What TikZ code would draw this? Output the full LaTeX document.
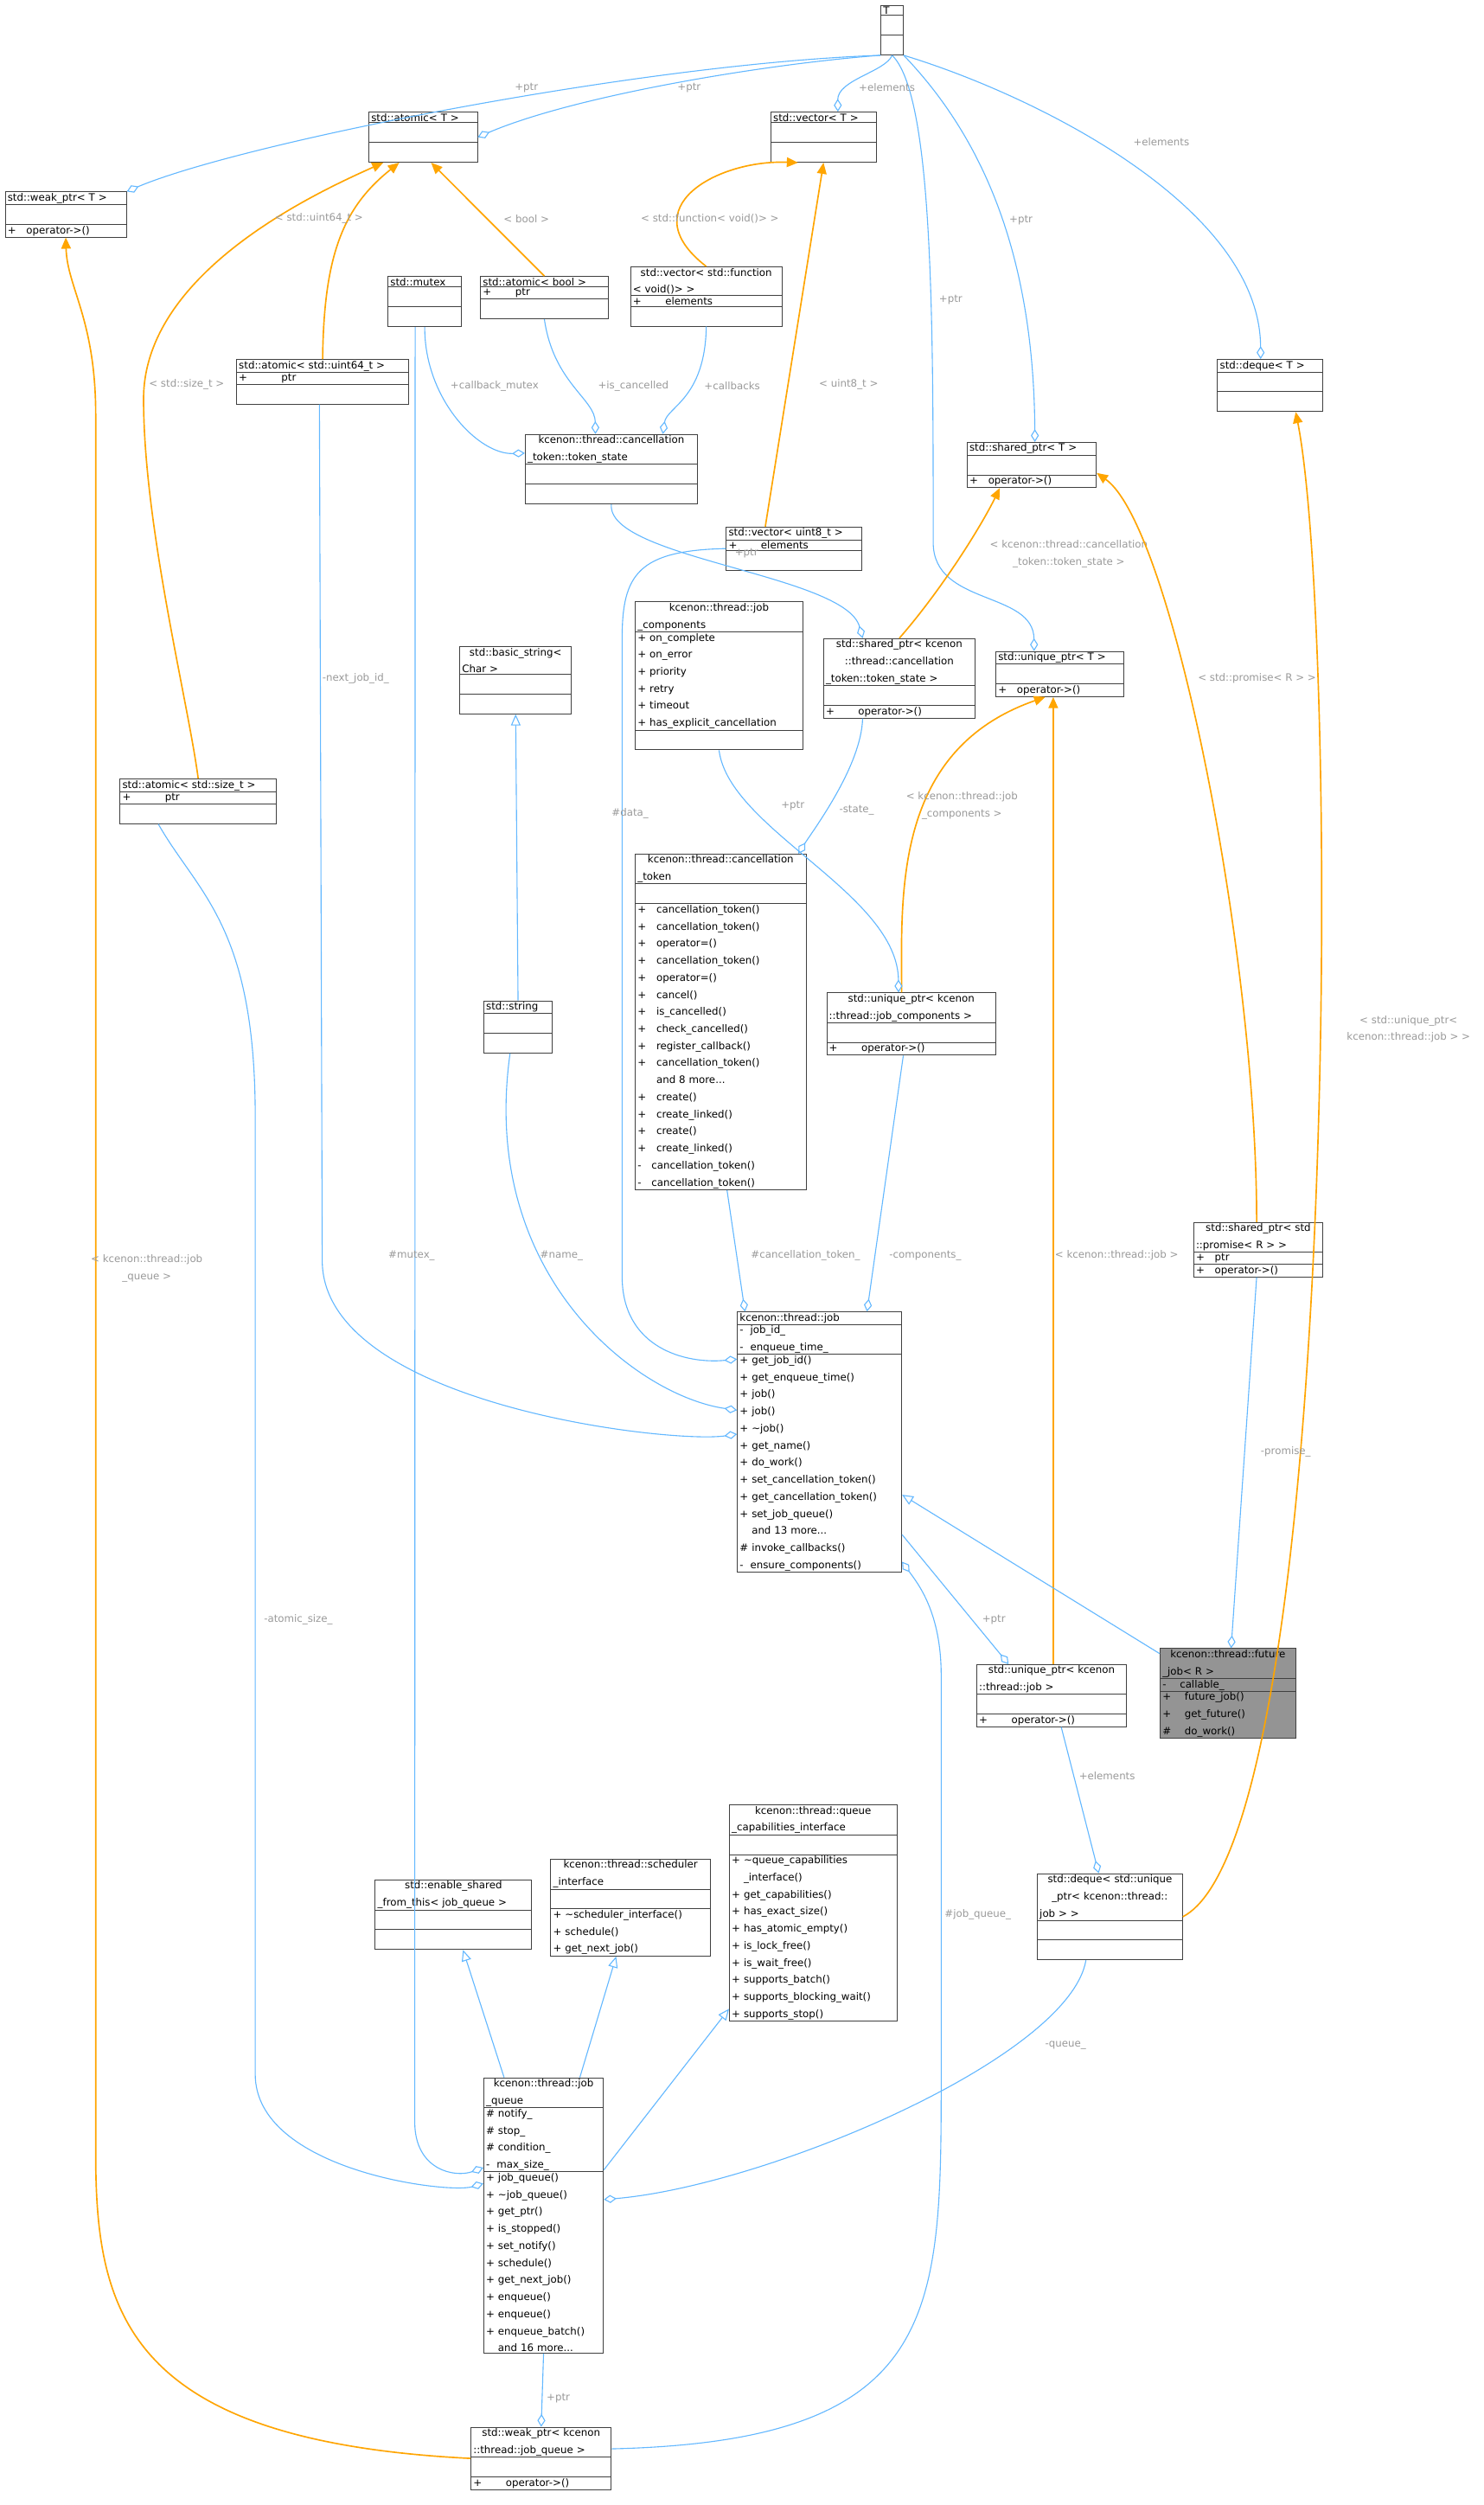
\documentclass[tikz,border=0pt]{standalone}
\usepackage{fontspec}
\setmainfont{DejaVu Sans}
\usetikzlibrary{shapes.multipart,arrows.meta,calc}
\definecolor{eb}{HTML}{63B8FF}
\definecolor{eo}{HTML}{FFA500}
\definecolor{lg}{HTML}{9A9A9A}
\newcommand\fs{\fontsize{6.4}{10.7}\selectfont}
\newcommand\tl{\centering}
\newcommand\mb{\raggedright}
\begin{document}
\begin{tikzpicture}[x=1pt,y=-1pt,
 cls/.style={draw=black!75,line width=0.5pt,rectangle split,rectangle split parts=3,
   text width=#1-3pt,inner xsep=1.5pt,inner ysep=0.6pt,anchor=north west,font=\fs,fill=white},
 be/.style={draw=eb,line width=0.6pt,-{Diamond[open,length=8pt,width=5pt]}},
 oe/.style={draw=eo,line width=0.9pt,-{Triangle[length=7pt,width=6pt]}},
 ie/.style={draw=eb,line width=0.6pt,-{Triangle[open,length=7pt,width=6pt]}},
 lbl/.style={font=\fs,text=lg,align=center,inner sep=0pt}]
\fill[white] (0,0) rectangle (930,1570);
\useasboundingbox (0,0) rectangle (930,1570);
\node[cls=14] (T) at (552,3) {\tl T\nodepart{two}\strut\nodepart{three}\strut};
\node[cls=76] (wpT) at (3,120) {\tl std::weak\_ptr< T >\nodepart{two}\strut\nodepart{three}\mb + \ \ operator->()};
\node[cls=68] (aT) at (231,70) {\tl std::atomic< T >\nodepart{two}\strut\nodepart{three}\strut};
\node[cls=66] (vT) at (483,70) {\tl std::vector< T >\nodepart{two}\strut\nodepart{three}\strut};
\node[cls=46] (mutex) at (243,173) {\tl std::mutex\nodepart{two}\strut\nodepart{three}\strut};
\node[cls=80] (ab) at (301,173) {\tl std::atomic< bool >\nodepart{two}\mb + \qquad ptr\nodepart{three}\strut};
\node[cls=95] (vf) at (395,167) {\tl std::vector< std::function\\< void()> >\nodepart{two}\mb + \qquad elements\nodepart{three}\strut};
\node[cls=108] (au64) at (148,225) {\tl std::atomic< std::uint64\_t >\nodepart{two}\mb + \qquad\quad ptr\nodepart{three}\strut};
\node[cls=66] (dT) at (763,225) {\tl std::deque< T >\nodepart{two}\strut\nodepart{three}\strut};
\node[cls=108] (ts) at (329,272) {\tl kcenon::thread::cancellation\\\_token::token\_state\nodepart{two}\strut\nodepart{three}\strut};
\node[cls=81] (spT) at (606,277) {\tl std::shared\_ptr< T >\nodepart{two}\strut\nodepart{three}\mb + \ \ operator->()};
\node[cls=85] (vu8) at (455,330) {\tl std::vector< uint8\_t >\nodepart{two}\mb + \qquad elements\nodepart{three}\strut};
\node[cls=105] (jc) at (398,377) {\tl kcenon::thread::job\\\_components\nodepart{two}\mb + on\_complete\\+ on\_error\\+ priority\\+ retry\\+ timeout\\+ has\_explicit\_cancellation\nodepart{three}\strut};
\node[cls=95] (spts) at (516,400) {\tl std::shared\_ptr< kcenon\\::thread::cancellation\\\_token::token\_state >\nodepart{two}\strut\nodepart{three}\mb + \qquad operator->()};
\node[cls=80] (upT) at (624,408) {\tl std::unique\_ptr< T >\nodepart{two}\strut\nodepart{three}\mb + \ \ operator->()};
\node[cls=70] (bs) at (288,405) {\tl std::basic\_string<\\Char >\nodepart{two}\strut\nodepart{three}\strut};
\node[cls=98] (as) at (75,488) {\tl std::atomic< std::size\_t >\nodepart{two}\mb + \qquad\quad ptr\nodepart{three}\strut};
\node[cls=107] (ct) at (398,535) {\tl kcenon::thread::cancellation\\\_token\nodepart{two}\strut\nodepart{three}\mb
+ \ \ cancellation\_token()\\+ \ \ cancellation\_token()\\+ \ \ operator=()\\+ \ \ cancellation\_token()\\+ \ \ operator=()\\+ \ \ cancel()\\+ \ \ is\_cancelled()\\+ \ \ check\_cancelled()\\+ \ \ register\_callback()\\+ \ \ cancellation\_token()\\\phantom{+ \ \ }and 8 more...\\+ \ \ create()\\+ \ \ create\_linked()\\+ \ \ create()\\+ \ \ create\_linked()\\- \ \ cancellation\_token()\\- \ \ cancellation\_token()};
\node[cls=43] (str) at (303,627) {\tl std::string\nodepart{two}\strut\nodepart{three}\strut};
\node[cls=106] (upjc) at (518,622) {\tl std::unique\_ptr< kcenon\\::thread::job\_components >\nodepart{two}\strut\nodepart{three}\mb + \qquad operator->()};
\node[cls=81] (spp) at (748,766) {\tl std::shared\_ptr< std\\::promise< R > >\nodepart{two}\mb + \ \ ptr\nodepart{three}\mb + \ \ operator->()};
\node[cls=103] (job) at (462,822) {\tl kcenon::thread::job\nodepart{two}\mb - \ job\_id\_\\- \ enqueue\_time\_\nodepart{three}\mb
+ get\_job\_id()\\+ get\_enqueue\_time()\\+ job()\\+ job()\\+ \textasciitilde job()\\+ get\_name()\\+ do\_work()\\+ set\_cancellation\_token()\\+ get\_cancellation\_token()\\+ set\_job\_queue()\\\phantom{+ }and 13 more...\\\# invoke\_callbacks()\\- \ ensure\_components()};
\node[cls=85,fill=black!42] (fj) at (727,1033) {\tl kcenon::thread::future\\\_job< R >\nodepart{two}\mb - \ \ \ callable\_\nodepart{three}\mb + \ \ \ future\_job()\\+ \ \ \ get\_future()\\\# \ \ \ do\_work()};
\node[cls=94] (upj) at (612,1043) {\tl std::unique\_ptr< kcenon\\::thread::job >\nodepart{two}\strut\nodepart{three}\mb + \qquad operator->()};
\node[cls=105] (qc) at (457,1131) {\tl kcenon::thread::queue\\\_capabilities\_interface\nodepart{two}\strut\nodepart{three}\mb
+ \textasciitilde queue\_capabilities\\\phantom{+ }\_interface()\\+ get\_capabilities()\\+ has\_exact\_size()\\+ has\_atomic\_empty()\\+ is\_lock\_free()\\+ is\_wait\_free()\\+ supports\_batch()\\+ supports\_blocking\_wait()\\+ supports\_stop()};
\node[cls=100] (si) at (345,1165) {\tl kcenon::thread::scheduler\\\_interface\nodepart{two}\strut\nodepart{three}\mb + \textasciitilde scheduler\_interface()\\+ schedule()\\+ get\_next\_job()};
\node[cls=98] (esft) at (235,1178) {\tl std::enable\_shared\\\_from\_this< job\_queue >\nodepart{two}\strut\nodepart{three}\strut};
\node[cls=91] (dupj) at (650,1174) {\tl std::deque< std::unique\\\_ptr< kcenon::thread::\\job > >\nodepart{two}\strut\nodepart{three}\strut};
\node[cls=75] (jq) at (303,1302) {\tl kcenon::thread::job\\\_queue\nodepart{two}\mb \# notify\_\\\# stop\_\\\# condition\_\\- \ max\_size\_\nodepart{three}\mb
+ job\_queue()\\+ \textasciitilde job\_queue()\\+ get\_ptr()\\+ is\_stopped()\\+ set\_notify()\\+ schedule()\\+ get\_next\_job()\\+ enqueue()\\+ enqueue()\\+ enqueue\_batch()\\\phantom{+ }and 16 more...};
\node[cls=88] (wpjq) at (295,1521) {\tl std::weak\_ptr< kcenon\\::thread::job\_queue >\nodepart{two}\strut\nodepart{three}\mb + \qquad operator->()};

% edges from T
\draw[be] (T.south west) .. controls (400,40) and (150,90) .. (wpT.north east);
\draw[be] (T.south west) .. controls (480,40) and (360,60) .. (aT.east);
\draw[be] (T.south) .. controls (555,45) and (525,50) .. ([xshift=9pt]vT.north);
\draw[be] (T.south east) .. controls (650,60) and (790,130) .. ([xshift=-6pt]dT.north);
\draw[be] (T.south east) .. controls (610,80) and (648,150) .. ([xshift=2pt]spT.north);
\draw[be] (T.south) .. controls (585,60) and (585,200) .. (585,340) .. controls (585,380) and (648,370) .. ([xshift=-16pt]upT.north);
\node[lbl] (l1) at (330,55) {+ptr};
\node[lbl] (l2) at (432,55) {+ptr};
\node[lbl] (l3) at (556,55) {+elements};
\node[lbl] (l4) at (728,89) {+elements};
\node[lbl] (l5) at (640,138) {+ptr};
\node[lbl] (l6) at (596,188) {+ptr};
% orange template edges
\draw[oe] (au64.north) .. controls (203,160) and (215,130) .. ([xshift=-15pt]aT.south);
\draw[oe] (ab.north) -- ([xshift=5pt]aT.south);
\draw[oe] (as.north) .. controls (118,440) and (90,330) .. (90,250) .. controls (90,170) and (200,120) .. ([xshift=-25pt]aT.south);
\draw[oe] (vf.north) .. controls (395,130) and (450,100) .. ([xshift=-16pt]vT.south);
\draw[oe] ([xshift=-18pt]vu8.north) -- (vT.south);
\node[lbl] (l7) at (200,137) {< std::uint64\_t >};
\node[lbl] (l8) at (330,137) {< bool >};
\node[lbl] (l9) at (117,241) {< std::size\_t >};
\node[lbl] (l10) at (445,137) {< std::function< void()> >};
\node[lbl] (l11) at (532,241) {< uint8\_t >};
% token state
\draw[be] (mutex.south) .. controls (266,250) and (300,285) .. ([yshift=-12pt]ts.north west);
\draw[be] (ab.south) .. controls (347,240) and (373,250) .. ([xshift=-10pt]ts.north);
\draw[be] (vf.south) .. controls (442,250) and (418,255) .. ([xshift=-22pt]ts.north east);
\node[lbl] (l12) at (310,242) {+callback\_mutex};
\node[lbl] (l13) at (397,242) {+is\_cancelled};
\node[lbl] (l14) at (459,242) {+callbacks};
\draw[be] (ts.south) .. controls (380,350) and (530,360) .. ([xshift=-23pt]spts.north);
\node[lbl] (l15) at (468,347) {+ptr};
\draw[oe] (spts.north) .. controls (590,370) and (615,330) .. ([xshift=-20pt]spT.south);
\node[lbl] (l16) at (670,347) {< kcenon::thread::cancellation\\\_token::token\_state >};
\draw[oe] ([xshift=-1pt]spp.north) .. controls (788,600) and (735,330) .. ([yshift=-5pt]spT.east);
\node[lbl] (l17) at (788,425) {< std::promise< R > >};
\draw[oe] ([xshift=-6pt]upjc.north) .. controls (565,560) and (560,470) .. ([xshift=-9pt]upT.south);
\node[lbl] (l18) at (603,505) {< kcenon::thread::job\\\_components >};
\draw[oe] ([xshift=1pt]upj.north) -- ([xshift=-4pt]upT.south);
\node[lbl] (l19) at (700,787) {< kcenon::thread::job >};
\draw[oe] (dupj.east) .. controls (840,1150) and (840,400) .. ([xshift=16pt]dT.south);
\node[lbl] (l20) at (883,645) {< std::unique\_ptr<\\kcenon::thread::job > >};
\draw[oe] (wpjq.west) .. controls (80,1530) and (60,1450) .. (60,1350) -- (60,260) .. controls (60,200) and (42,180) .. (wpT.south);
\node[lbl] (l21) at (92,795) {< kcenon::thread::job\\\_queue >};
\draw[ie] (str.north) -- (bs.south);
% job edges
\draw[be] ([xshift=-23pt]spts.south) .. controls (540,480) and (510,520) .. ([xshift=-5pt]ct.north east);
\node[lbl] (l22) at (537,508) {-state\_};
\draw[be] (jc.south) .. controls (457,520) and (563,560) .. ([xshift=-8pt]upjc.north);
\node[lbl] (l23) at (497,505) {+ptr};
\draw[be] ([xshift=4pt]ct.south) -- ([xshift=5pt]job.north west);
\node[lbl] (l24) at (505,787) {\#cancellation\_token\_};
\draw[be] ([xshift=-5pt]upjc.south) -- ([xshift=-22pt]job.north east);
\node[lbl] (l25) at (580,787) {-components\_};
\draw[be] ([xshift=-5pt]str.south) .. controls (300,800) and (400,875) .. ([yshift=20pt]job.west);
\node[lbl] (l26) at (352,787) {\#name\_};
\draw[be] (vu8.west) .. controls (400,345) and (390,360) .. (390,400) -- (390,800) .. controls (390,845) and (430,855) .. ([yshift=52pt]job.west);
\node[lbl] (l27) at (395,510) {\#data\_};
\draw[be] ([xshift=-2pt]au64.south) -- (202,790) .. controls (202,880) and (420,905) .. ([yshift=5pt]job.west);
\node[lbl] (l28) at (223,425) {-next\_job\_id\_};
\draw[ie] ([yshift=25pt]fj.west) -- ([yshift=-33pt]job.east);
\draw[be] ([yshift=-58pt]job.east) -- ([xshift=-27pt]upj.north);
\node[lbl] (l29) at (623,1015) {+ptr};
\draw[be] ([xshift=-1pt]spp.south) -- ([xshift=2pt]fj.north);
\node[lbl] (l30) at (806,910) {-promise\_};
\draw[be] ([xshift=6pt]upj.south) -- ([xshift=-7pt]dupj.north);
\node[lbl] (l31) at (694,1113) {+elements};
% job_queue
\draw[ie] ([xshift=13pt]jq.north west) -- ([xshift=6pt]esft.south);
\draw[ie] ([xshift=-15pt]jq.north east) -- ([xshift=-9pt]si.south);
\draw[ie] ([yshift=-58pt]jq.north east) -- ([yshift=8pt]qc.south west);
\draw[be] ([xshift=-15pt]dupj.south) .. controls (670,1290) and (480,1370) .. ([yshift=10pt]jq.east);
\node[lbl] (l32) at (668,1282) {-queue\_};
\draw[be] ([xshift=-6pt]mutex.south) -- (260,1330) .. controls (260,1360) and (285,1365) .. ([yshift=30pt]jq.west);
\node[lbl] (l33) at (258,787) {\#mutex\_};
\draw[be] ([xshift=-25pt]as.south) .. controls (124,560) and (160,580) .. (160,700) -- (160,1300) .. controls (160,1360) and (280,1375) .. ([yshift=20pt]jq.west);
\node[lbl] (l34) at (187,1015) {-atomic\_size\_};
\draw[be] (jq.south) -- (wpjq.north);
\node[lbl] (l35) at (350,1503) {+ptr};
\draw[be] ([yshift=6pt]wpjq.east) .. controls (590,1530) and (590,1450) .. (590,1300) -- (590,1050) .. controls (590,1010) and (575,992) .. ([yshift=-75pt]job.east);
\node[lbl] (l36) at (613,1200) {\#job\_queue\_};
\end{tikzpicture}
\end{document}
